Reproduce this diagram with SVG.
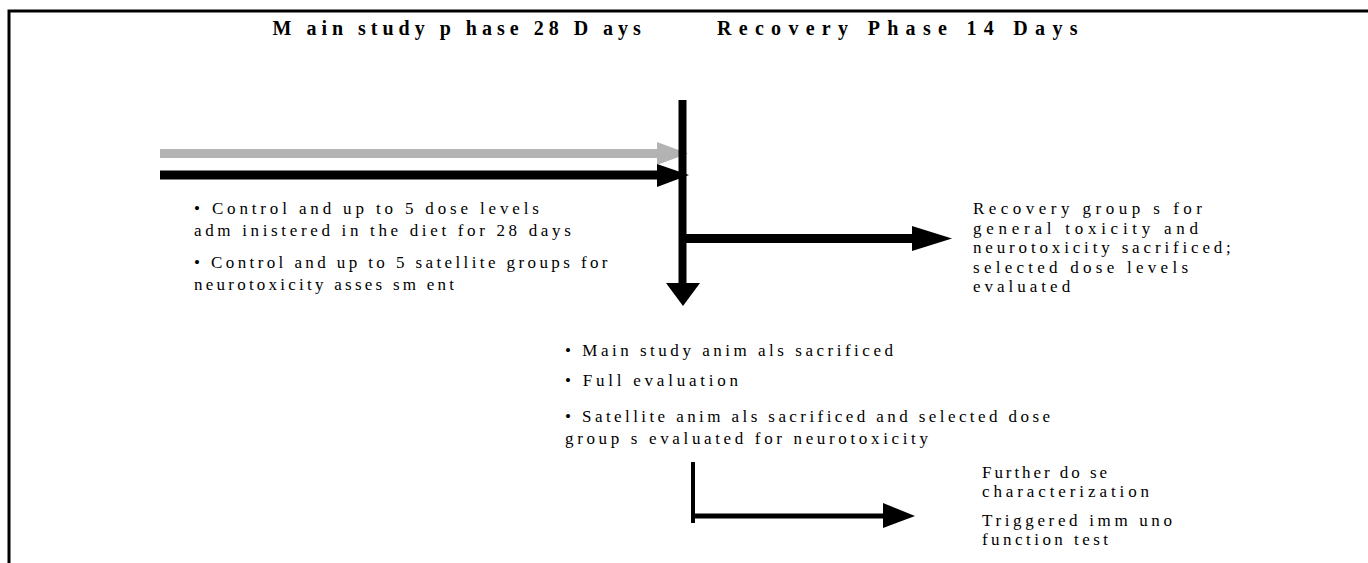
<svg xmlns="http://www.w3.org/2000/svg" width="1368" height="563" viewBox="0 0 1368 563">
<style>
.t{font-family:"Liberation Serif","Times New Roman",serif;font-size:17px;fill:#000}
.h{font-family:"Liberation Serif","Times New Roman",serif;font-size:20px;font-weight:bold;fill:#000}
.blk{fill:#000}
.gry{fill:#b3b3b3}
</style>
<rect width="1368" height="563" fill="#fff"/>
<path d="M9,563 V11 H1368" fill="none" stroke="#000" stroke-width="3"/>
<g id="titles">
<text class="h" x="272.5" y="34.5" letter-spacing="5">M ain study p hase 28 D ays</text>
<text class="h" x="717" y="34.5" letter-spacing="7.3">Recovery Phase 14 Days</text>
</g>
<g id="connectors">
<rect class="gry" x="160" y="149" width="498" height="9"/>
<polygon class="gry" points="657,142 688,153.5 657,165"/>
<rect class="blk" x="160" y="170.5" width="498" height="9"/>
<polygon class="blk" points="657,164 689,175 657,187"/>
<rect class="blk" x="678.5" y="100" width="8" height="185"/>
<polygon class="blk" points="666,283 700,283 683,306"/>
<rect class="blk" x="684" y="234" width="229" height="9"/>
<polygon class="blk" points="912,226 952,238.5 912,251"/>
<rect class="blk" x="691" y="462" width="4" height="61"/>
<rect class="blk" x="691" y="513.5" width="193" height="5"/>
<polygon class="blk" points="883,503 915,516 883,528"/>
</g>
<g id="dosing">
<text class="t" x="194" y="214" letter-spacing="3.85">• Control and up to 5 dose levels</text>
<text class="t" x="194" y="236" letter-spacing="3.66">adm inistered in the diet for 28 days</text>
<text class="t" x="194" y="268" letter-spacing="3.4">• Control and up to 5 satellite groups for</text>
<text class="t" x="194" y="290" letter-spacing="3.24">neurotoxicity asses sm ent</text>
</g>
<g id="recovery">
<text class="t" x="973" y="214" letter-spacing="4.47">Recovery group s for</text>
<text class="t" x="973" y="233.5" letter-spacing="4.74">general toxicity and</text>
<text class="t" x="973" y="253" letter-spacing="3.84">neurotoxicity sacrificed;</text>
<text class="t" x="973" y="272.5" letter-spacing="4.26">selected dose levels</text>
<text class="t" x="973" y="292" letter-spacing="4.0">evaluated</text>
</g>
<g id="main-sacrifice">
<text class="t" x="565" y="355.5" letter-spacing="3.52">• Main study anim als sacrificed</text>
<text class="t" x="565" y="385.5" letter-spacing="3.77">• Full evaluation</text>
<text class="t" x="565" y="422" letter-spacing="3.42">• Satellite anim als sacrificed and selected dose</text>
<text class="t" x="565" y="444" letter-spacing="3.65">group s evaluated for neurotoxicity</text>
</g>
<g id="further">
<text class="t" x="982" y="478" letter-spacing="2.94">Further do se</text>
<text class="t" x="982" y="497" letter-spacing="3.9">characterization</text>
<text class="t" x="982" y="526" letter-spacing="3.65">Triggered imm uno</text>
<text class="t" x="982" y="545" letter-spacing="3.46">function test</text>
</g>
</svg>
